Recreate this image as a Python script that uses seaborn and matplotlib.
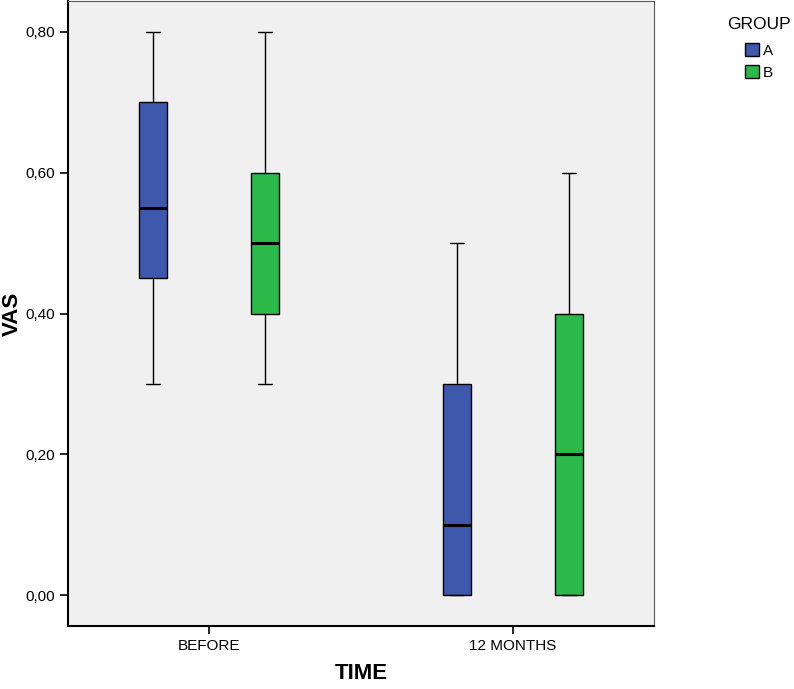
import pandas as pd
import matplotlib.pyplot as plt
import seaborn as sns
from matplotlib.ticker import FuncFormatter

sns.set_style("white")
plt.rcParams['font.family'] = ['Liberation Sans', 'DejaVu Sans']
plt.rcParams['text.color'] = 'black'
plt.rcParams['axes.labelcolor'] = 'black'
plt.rcParams['xtick.color'] = 'black'
plt.rcParams['ytick.color'] = 'black'

# five-number data per box (min, Q1, median, Q3, max)
times = ["BEFORE", "12 MONTHS"]
groups = ["A", "B"]
vas_before_a = [0.30, 0.45, 0.55, 0.70, 0.80]
vas_before_b = [0.30, 0.40, 0.50, 0.60, 0.80]
vas_12m_a = [0.00, 0.00, 0.10, 0.30, 0.50]
vas_12m_b = [0.00, 0.00, 0.20, 0.40, 0.60]

rows = []
for t, g, vals in [("BEFORE", "A", vas_before_a), ("BEFORE", "B", vas_before_b),
                   ("12 MONTHS", "A", vas_12m_a), ("12 MONTHS", "B", vas_12m_b)]:
    for v in vals:
        rows.append({"TIME": t, "GROUP": g, "VAS": v})
df = pd.DataFrame(rows)

fig = plt.figure(figsize=(7.94, 6.89), dpi=100)
ax = fig.add_axes([68/794, 63/689, 586/794, 625/689])
ax.set_facecolor("#f0f0f0")

sns.boxplot(
    data=df, x="TIME", y="VAS", hue="GROUP",
    order=times, hue_order=groups,
    palette={"A": "#3e58ac", "B": "#2db84a"},
    width=0.737, gap=0.75, whis=1.5, saturation=1,
    linecolor="black", linewidth=1.0,
    medianprops={"linewidth": 2.2, "color": "black"},
    whiskerprops={"linewidth": 1.0, "color": "black"},
    capprops={"linewidth": 1.0, "color": "black"},
    ax=ax,
)

ax.set_xlim(-0.464, 1.464)
ax.set_ylim(-0.044, 0.844)
ax.set_yticks([0.0, 0.2, 0.4, 0.6, 0.8])
ax.yaxis.set_major_formatter(FuncFormatter(lambda v, p: f"{v:.2f}".replace(".", ",")))
ax.tick_params(axis="both", direction="out", length=6, width=1.2, color="black",
               labelsize=11, left=True, bottom=True)

for side in ["left", "bottom"]:
    ax.spines[side].set_color("black")
    ax.spines[side].set_linewidth(1.5)
for side in ["top", "right"]:
    ax.spines[side].set_color("#555555")
    ax.spines[side].set_linewidth(0.8)

ax.set_xlabel("TIME", fontsize=16, fontweight="bold", labelpad=7)
ax.set_ylabel("VAS", fontsize=16, fontweight="bold")
ax.yaxis.set_label_coords((23 - 68) / 586, 0.5)

sns.move_legend(ax, "upper center", bbox_to_anchor=(759/794, 1.0 - 6/689),
                bbox_transform=fig.transFigure, frameon=False,
                title="GROUP", fontsize=11, title_fontsize=12.5,
                handlelength=0.9, handleheight=1.0, handletextpad=0.25,
                labelspacing=0.45, borderpad=0.2)
leg = ax.get_legend()
leg._legend_box.sep = 8
for h in leg.legend_handles:
    h.set_edgecolor("black")

fig.savefig("out.png", dpi=100)
